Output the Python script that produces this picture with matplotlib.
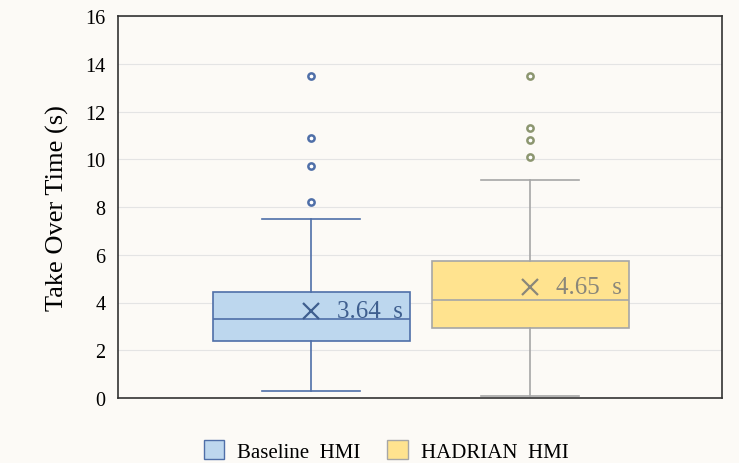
import numpy as np
import matplotlib.pyplot as plt
from matplotlib.patches import Patch

plt.rcParams['font.family'] = ['Liberation Serif', 'DejaVu Serif']

groups = ["Baseline  HMI", "HADRIAN  HMI"]
q1 = [2.38, 2.93]
med = [3.30, 4.10]
q3 = [4.45, 5.73]
whislo = [0.28, 0.08]
whishi = [7.49, 9.12]
means = [3.64, 4.65]
fliers = [[8.2, 9.7, 10.9, 13.5], [10.1, 10.8, 11.3, 13.5]]

face = ["#bdd7ee", "#ffe38f"]
edge = ["#4f6fa8", "#a6a6a6"]
flier_edge = ["#4f6fa8", "#8c9670"]
mean_col = ["#3f5f8f", "#8a877a"]
bg = "#fcfaf6"

fig = plt.figure(figsize=(7.39, 4.64), dpi=100, facecolor=bg)
ax = fig.add_axes([118/739, 1-399/464, 604/739, 382/464], facecolor=bg)

for i in range(2):
    st = dict(q1=q1[i], med=med[i], q3=q3[i], whislo=whislo[i], whishi=whishi[i],
              fliers=fliers[i], mean=means[i])
    ax.bxp([st], positions=[i+1], widths=0.9, patch_artist=True, showmeans=False,
           boxprops=dict(facecolor=face[i], edgecolor=edge[i], linewidth=1.2),
           medianprops=dict(color=edge[i], linewidth=1.2),
           whiskerprops=dict(color=edge[i], linewidth=1.2),
           capprops=dict(color=edge[i], linewidth=1.2),
           flierprops=dict(marker='o', markersize=4.5, markerfacecolor='white',
                           markeredgecolor=flier_edge[i], markeredgewidth=1.8),
           zorder=3)
    ax.plot(i+1, means[i], marker='x', color=mean_col[i], markersize=11,
            markeredgewidth=1.6, zorder=4)
    ax.text(i+1.12, means[i], f"{means[i]:.2f}  s", color=mean_col[i],
            fontsize=18, va='center', ha='left', zorder=5)

ax.set_xlim(0.117, 2.877)
ax.set_ylim(0, 16)
ax.set_yticks(np.arange(0, 17, 2))
ax.set_xticks([])
ax.tick_params(axis='y', length=0, labelsize=14.5, pad=9)
ax.yaxis.grid(True, color='#e4e4e4', linewidth=0.8, zorder=0)
ax.set_axisbelow(True)
for s in ax.spines.values():
    s.set_color('#333333')
    s.set_linewidth(1.2)
ax.set_ylabel("Take Over Time (s)", fontsize=19, labelpad=12)

handles = [Patch(facecolor=face[i], edgecolor=edge[i], label=groups[i]) for i in range(2)]
fig.legend(handles=handles, loc='center', bbox_to_anchor=(386/739, 1-452/464), ncol=2,
           frameon=False, fontsize=15, handlelength=1.0, handleheight=1.0,
           handletextpad=0.6, columnspacing=1.3)

fig.savefig("out.png", dpi=100, facecolor=bg)
